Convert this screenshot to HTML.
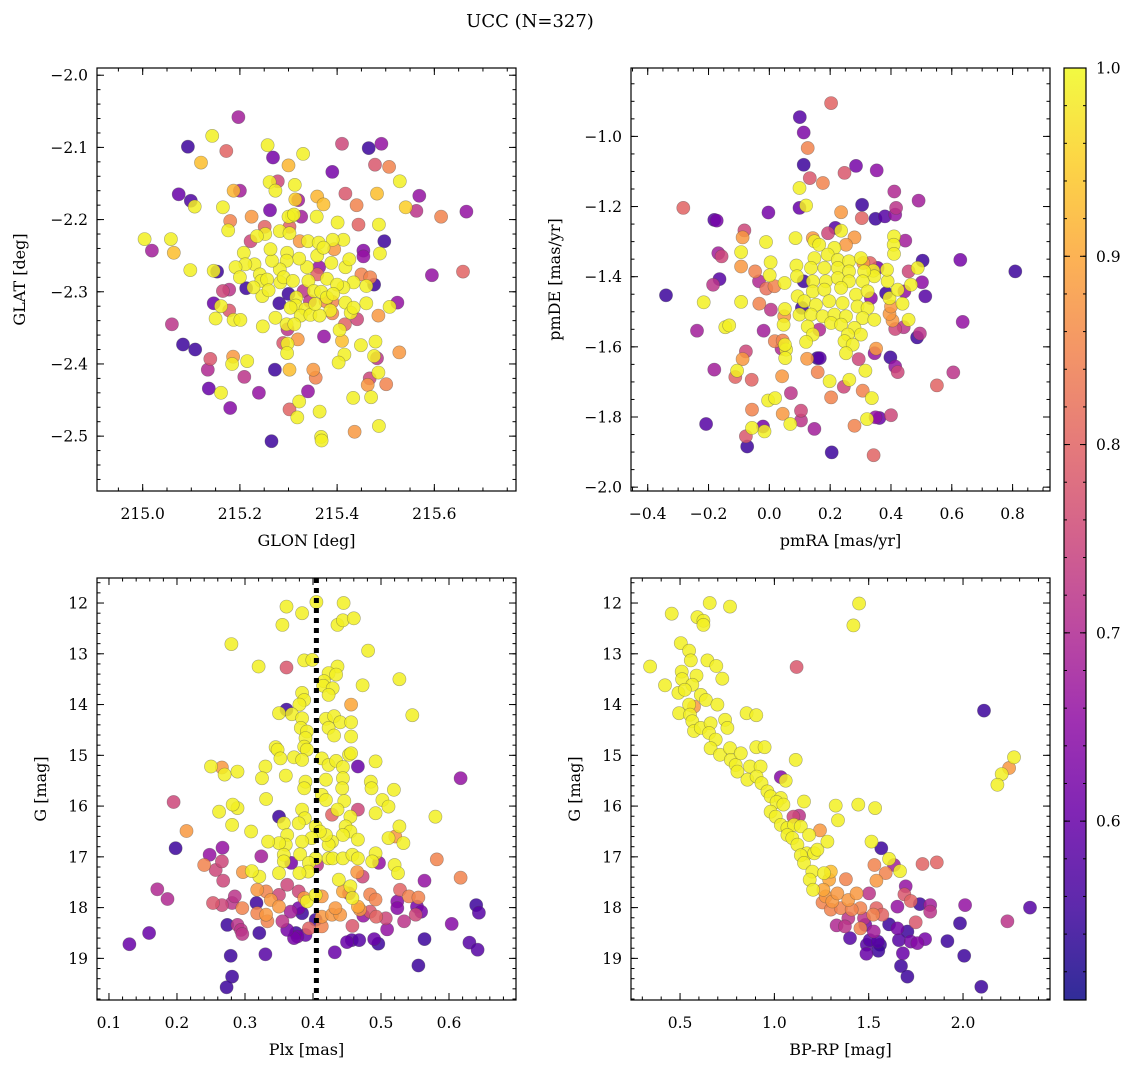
<!DOCTYPE html>
<html><head><meta charset="utf-8"><title>UCC (N=327)</title>
<style>
html,body{margin:0;padding:0;background:#fff;}
svg{display:block;font-family:"DejaVu Serif","Liberation Serif",serif;}
</style></head>
<body>
<svg id="fig" width="1136" height="1067" viewBox="0 0 1136 1067" xmlns="http://www.w3.org/2000/svg">
<rect width="1136" height="1067" fill="#fff"/>
<text x="530" y="27" text-anchor="middle" font-size="18" fill="#000">UCC (N=327)</text>
<defs>
<linearGradient id="plasma" x1="0" y1="1" x2="0" y2="0">
<stop offset="0" stop-color="#0d0887"/><stop offset="0.1" stop-color="#41049d"/><stop offset="0.2" stop-color="#6a00a8"/><stop offset="0.3" stop-color="#8f0da4"/><stop offset="0.4" stop-color="#b12a90"/><stop offset="0.5" stop-color="#cc4778"/><stop offset="0.6" stop-color="#e16462"/><stop offset="0.7" stop-color="#f2844b"/><stop offset="0.8" stop-color="#fca636"/><stop offset="0.9" stop-color="#fcce25"/><stop offset="1" stop-color="#f0f921"/>
</linearGradient>
</defs>
</svg>
<script>
// ---- Panel A: GLON / GLAT ----
const glon=[215.197,215.093,215.143,215.172,215.120,215.257,215.268,215.330,215.300,215.410,
215.465,215.491,215.478,215.507,215.390,215.529,215.074,215.099,215.107,215.200,
215.187,215.261,215.278,215.273,215.313,215.320,215.314,215.359,215.372,215.417,
215.440,215.482,215.569,215.541,215.563,215.614,215.666,215.165,215.262,215.224,
215.180,215.176,215.307,215.326,215.358,215.401,215.444,215.486,215.497,215.488,
215.004,215.058,215.019,215.064,215.098,215.146,215.153,215.454,215.454,215.595,
215.659,215.222,215.213,215.165,215.178,215.146,215.161,215.178,215.150,215.187,
215.201,215.281,215.273,215.247,215.060,215.083,215.108,215.139,215.134,215.186,
215.184,215.215,215.209,215.136,215.161,215.180,215.239,215.272,215.302,215.298,
215.296,215.289,215.298,215.297,215.319,215.340,215.322,215.302,215.318,215.364,
215.351,215.356,215.373,215.367,215.368,215.265,215.436,215.486,215.433,215.470,
215.463,215.467,215.501,215.485,215.528,215.479,215.482,215.476,215.449,215.415,
215.403,215.410,215.405,215.416,215.441,215.485,215.524,215.508,215.460,215.390,
215.417,215.428,215.386,215.460,215.476,215.450,215.468,215.434,215.417,215.425,
215.413,215.394,215.391,215.388,215.413,215.379,215.363,215.359,215.340,215.323,
215.362,215.372,215.338,215.322,215.297,215.296,215.282,215.266,215.263,215.252,
215.282,215.302,215.302,215.300,215.311,215.251,215.235,215.208,215.230,215.211,
215.191,215.200,215.241,215.244,215.256,215.283,215.290,215.309,215.341,215.359,
215.352,215.367,215.331,215.316,215.300,215.246,215.259,215.228,215.315,215.304,
215.335,215.325,215.345,215.364,215.344,215.355,215.379,215.400,215.390,215.392,
215.376,215.434,215.312];
const glat=[-2.058,-2.099,-2.084,-2.105,-2.121,-2.097,-2.114,-2.109,-2.125,-2.095,
-2.101,-2.095,-2.124,-2.127,-2.134,-2.147,-2.165,-2.174,-2.182,-2.160,
-2.160,-2.148,-2.147,-2.160,-2.152,-2.173,-2.172,-2.168,-2.179,-2.164,
-2.180,-2.164,-2.167,-2.183,-2.188,-2.196,-2.189,-2.183,-2.187,-2.196,
-2.202,-2.215,-2.195,-2.196,-2.196,-2.204,-2.207,-2.207,-2.230,-2.247,
-2.227,-2.227,-2.243,-2.246,-2.270,-2.271,-2.272,-2.243,-2.251,-2.277,
-2.272,-2.230,-2.295,-2.299,-2.297,-2.316,-2.320,-2.326,-2.337,-2.339,
-2.339,-2.316,-2.336,-2.348,-2.345,-2.373,-2.380,-2.393,-2.408,-2.390,
-2.400,-2.396,-2.418,-2.434,-2.440,-2.461,-2.440,-2.408,-2.408,-2.352,
-2.345,-2.371,-2.372,-2.385,-2.366,-2.438,-2.452,-2.463,-2.474,-2.466,
-2.408,-2.419,-2.362,-2.501,-2.506,-2.507,-2.494,-2.486,-2.447,-2.446,
-2.429,-2.420,-2.428,-2.412,-2.384,-2.369,-2.392,-2.389,-2.374,-2.387,
-2.398,-2.368,-2.353,-2.345,-2.338,-2.333,-2.315,-2.321,-2.316,-2.314,
-2.315,-2.329,-2.326,-2.292,-2.290,-2.276,-2.280,-2.287,-2.266,-2.255,
-2.228,-2.241,-2.228,-2.260,-2.294,-2.282,-2.266,-2.250,-2.230,-2.230,
-2.232,-2.239,-2.266,-2.254,-2.246,-2.257,-2.269,-2.257,-2.241,-2.220,
-2.216,-2.219,-2.210,-2.196,-2.193,-2.210,-2.223,-2.246,-2.262,-2.262,
-2.266,-2.280,-2.276,-2.285,-2.283,-2.287,-2.280,-2.285,-2.285,-2.276,
-2.299,-2.300,-2.299,-2.308,-2.303,-2.306,-2.298,-2.294,-2.319,-2.322,
-2.324,-2.333,-2.332,-2.333,-2.313,-2.317,-2.308,-2.290,-2.330,-2.303,
-2.313,-2.322,-2.345];
const probA=[0.68,0.55,0.99,0.80,0.93,0.99,0.62,0.99,0.92,0.75,
0.55,0.66,0.78,0.85,0.62,0.99,0.60,0.57,0.99,0.68,
0.92,0.99,0.75,0.99,0.99,0.68,0.95,0.92,0.93,0.78,
0.85,0.93,0.66,0.95,0.72,0.85,0.66,0.99,0.62,0.88,
0.85,0.99,0.99,0.68,0.99,0.99,0.80,0.99,0.55,0.99,
0.99,0.99,0.68,0.93,0.99,0.99,0.55,0.64,0.66,0.66,
0.80,0.75,0.55,0.75,0.72,0.60,0.99,0.78,0.99,0.99,
0.99,0.55,0.99,0.99,0.72,0.55,0.55,0.78,0.70,0.88,
0.99,0.99,0.72,0.60,0.99,0.64,0.66,0.55,0.93,0.72,
0.99,0.78,0.99,0.99,0.88,0.66,0.99,0.80,0.99,0.99,
0.88,0.85,0.66,0.99,0.99,0.55,0.88,0.99,0.99,0.99,
0.88,0.75,0.85,0.99,0.88,0.99,0.72,0.99,0.99,0.99,
0.99,0.93,0.99,0.80,0.75,0.88,0.66,0.99,0.99,0.85,
0.99,0.99,0.99,0.99,0.55,0.85,0.85,0.99,0.99,0.99,
0.99,0.88,0.99,0.99,0.99,0.99,0.66,0.99,0.99,0.88,
0.99,0.99,0.99,0.99,0.99,0.99,0.99,0.99,0.99,0.99,
0.99,0.99,0.80,0.99,0.99,0.80,0.99,0.99,0.99,0.99,
0.99,0.99,0.99,0.99,0.99,0.99,0.99,0.99,0.99,0.80,
0.99,0.99,0.72,0.99,0.55,0.99,0.99,0.99,0.99,0.99,
0.99,0.99,0.99,0.99,0.72,0.99,0.99,0.99,0.85,0.99,
0.85,0.99,0.99];

// ---- Panel B: pmRA / pmDE ----
const pmra=[0.203,0.100,0.113,0.126,0.113,0.133,0.176,0.099,0.247,0.285,
0.353,0.411,0.491,-0.283,-0.181,-0.173,-0.003,0.099,0.121,0.305,
0.236,0.304,0.349,0.380,0.417,0.414,-0.082,-0.088,-0.011,0.086,
0.143,0.193,0.217,0.236,0.280,0.410,0.409,0.410,0.447,-0.168,
-0.157,-0.093,0.004,-0.093,-0.047,-0.164,-0.185,-0.034,-0.010,0.017,
0.001,0.050,0.089,0.091,0.093,0.113,-0.340,-0.216,-0.093,-0.033,
0.005,0.051,0.049,0.047,0.099,-0.238,-0.145,-0.132,-0.019,0.018,
0.044,0.055,0.051,0.052,0.040,-0.077,-0.088,-0.181,-0.106,-0.112,
-0.058,0.042,0.124,0.158,0.166,0.159,0.198,0.245,0.263,0.294,
0.316,0.346,0.351,0.398,0.414,0.422,0.307,0.337,0.203,0.071,
-0.004,0.019,-0.057,0.044,0.104,0.104,0.069,0.148,-0.021,-0.016,
-0.057,-0.077,-0.073,-0.208,0.205,0.343,0.280,0.321,0.349,0.362,
0.400,0.551,0.605,0.636,0.486,0.495,0.442,0.414,0.458,0.405,
0.395,0.400,0.438,0.395,0.384,0.422,0.444,0.389,0.387,0.342,
0.345,0.309,0.331,0.356,0.466,0.502,0.488,0.504,0.458,0.513,
0.628,0.809,0.334,
0.148,0.164,0.214,0.252,0.192,0.148,0.225,0.262,0.301,0.137,
0.181,0.225,0.262,0.312,0.143,0.186,0.225,0.262,0.307,0.143,
0.181,0.236,0.285,0.323,0.115,0.153,0.197,0.241,0.290,0.323,
0.137,0.175,0.214,0.252,0.307,0.345,0.126,0.164,0.203,0.236,
0.280,0.143,0.258,0.301,0.121,0.247,0.274,0.252,0.107];
const pmde=[-0.905,-0.945,-0.989,-1.033,-1.081,-1.119,-1.133,-1.147,-1.104,-1.084,
-1.097,-1.157,-1.183,-1.204,-1.238,-1.240,-1.217,-1.204,-1.197,-1.195,
-1.216,-1.233,-1.235,-1.228,-1.204,-1.223,-1.268,-1.288,-1.301,-1.290,
-1.290,-1.276,-1.261,-1.269,-1.288,-1.285,-1.309,-1.335,-1.297,-1.333,
-1.342,-1.330,-1.359,-1.371,-1.385,-1.407,-1.423,-1.413,-1.434,-1.427,
-1.396,-1.418,-1.368,-1.399,-1.456,-1.413,-1.453,-1.473,-1.472,-1.477,
-1.494,-1.492,-1.513,-1.537,-1.508,-1.554,-1.544,-1.539,-1.554,-1.584,
-1.582,-1.608,-1.594,-1.632,-1.605,-1.613,-1.635,-1.665,-1.668,-1.686,
-1.694,-1.684,-1.634,-1.632,-1.632,-1.672,-1.698,-1.714,-1.694,-1.635,
-1.668,-1.618,-1.605,-1.630,-1.656,-1.672,-1.725,-1.746,-1.744,-1.732,
-1.753,-1.746,-1.779,-1.791,-1.782,-1.810,-1.820,-1.834,-1.827,-1.841,
-1.831,-1.855,-1.884,-1.820,-1.901,-1.909,-1.825,-1.806,-1.801,-1.803,
-1.795,-1.710,-1.673,-1.529,-1.573,-1.562,-1.544,-1.549,-1.523,-1.525,
-1.506,-1.485,-1.477,-1.461,-1.447,-1.437,-1.442,-1.413,-1.380,-1.383,
-1.399,-1.361,-1.361,-1.375,-1.423,-1.416,-1.375,-1.354,-1.385,-1.456,
-1.352,-1.385,-1.461,
-1.299,-1.309,-1.318,-1.309,-1.337,-1.347,-1.352,-1.356,-1.347,-1.375,
-1.375,-1.375,-1.385,-1.385,-1.413,-1.413,-1.404,-1.413,-1.413,-1.442,
-1.437,-1.432,-1.451,-1.442,-1.470,-1.480,-1.470,-1.475,-1.485,-1.489,
-1.508,-1.513,-1.508,-1.513,-1.518,-1.523,-1.542,-1.551,-1.532,-1.537,
-1.546,-1.565,-1.565,-1.565,-1.586,-1.584,-1.594,-1.618,-1.489];
const probB=[0.80,0.58,0.63,0.85,0.55,0.78,0.85,0.99,0.78,0.62,
0.65,0.70,0.68,0.80,0.58,0.62,0.62,0.60,0.99,0.55,
0.88,0.80,0.55,0.58,0.72,0.66,0.75,0.88,0.99,0.99,
0.88,0.75,0.58,0.99,0.88,0.99,0.99,0.99,0.68,0.68,
0.75,0.99,0.99,0.88,0.85,0.58,0.72,0.70,0.82,0.85,
0.99,0.99,0.99,0.99,0.99,0.55,0.55,0.99,0.99,0.85,
0.72,0.99,0.88,0.99,0.99,0.68,0.99,0.99,0.68,0.85,
0.85,0.99,0.99,0.99,0.70,0.75,0.88,0.68,0.99,0.80,
0.80,0.88,0.88,0.55,0.58,0.85,0.99,0.75,0.99,0.75,
0.99,0.66,0.88,0.55,0.66,0.75,0.85,0.99,0.85,0.72,
0.99,0.99,0.85,0.88,0.75,0.72,0.99,0.68,0.62,0.99,
0.99,0.78,0.55,0.58,0.55,0.80,0.85,0.99,0.66,0.60,
0.75,0.80,0.72,0.66,0.55,0.72,0.72,0.75,0.99,0.88,
0.88,0.88,0.99,0.99,0.55,0.99,0.66,0.99,0.99,0.99,
0.99,0.88,0.80,0.62,0.99,0.65,0.99,0.55,0.75,0.58,
0.62,0.55,0.65,
0.99,0.99,0.99,0.88,0.99,0.99,0.99,0.99,0.99,0.99,
0.99,0.99,0.99,0.99,0.99,0.99,0.99,0.99,0.99,0.99,
0.99,0.99,0.99,0.99,0.99,0.99,0.99,0.99,0.99,0.99,
0.99,0.99,0.99,0.99,0.99,0.99,0.99,0.70,0.99,0.99,
0.99,0.99,0.99,0.99,0.99,0.99,0.99,0.99,0.55];

// ---- Panel C: Plx / G ----
const plx=[0.361,0.384,0.405,0.445,0.355,0.436,0.444,0.460,0.280,0.320,
0.361,0.387,0.399,0.481,0.436,0.423,0.434,0.416,0.415,0.429,
0.473,0.527,0.423,0.384,0.387,0.380,0.361,0.350,0.369,0.456,
0.546,0.419,0.431,0.440,0.456,0.384,0.382,0.391,0.423,0.431,
0.456,0.389,0.387,0.391,0.345,0.348,0.352,0.372,0.384,0.413,
0.423,0.434,0.453,0.456,0.444,0.466,0.492,0.250,0.266,0.270,
0.289,0.330,0.325,0.360,0.389,0.387,0.419,0.444,0.413,0.419,
0.443,0.446,0.485,0.486,0.519,0.502,0.511,0.492,0.617,0.331,
0.289,0.282,0.262,0.195,0.281,0.309,0.214,0.384,0.388,0.357,
0.350,0.379,0.404,0.428,0.436,0.455,0.466,0.448,0.455,0.444,
0.466,0.428,0.423,0.419,0.410,0.398,0.384,0.362,0.360,0.350,
0.334,0.357,0.357,0.324,0.368,0.381,0.404,0.423,0.429,0.444,
0.458,0.466,0.492,0.497,0.487,0.520,0.525,0.511,0.521,0.533,
0.527,0.580,0.582,0.617,0.564,0.394,0.406,0.393,0.380,0.350,
0.321,0.310,0.297,0.465,0.473,0.438,0.455,0.444,0.458,0.466,
0.469,0.484,0.492,0.387,0.391,0.404,0.413,0.350,0.362,0.379,
0.318,0.331,0.338,0.350,0.317,0.318,0.331,0.333,0.355,0.367,
0.384,0.379,0.394,0.413,0.404,0.413,0.428,0.440,0.433,0.375,
0.377,0.389,0.372,0.362,0.321,0.330,0.279,0.281,0.273,0.274,
0.289,0.294,0.296,0.253,0.266,0.281,0.285,0.296,0.268,0.257,
0.266,0.240,0.248,0.267,0.198,0.171,0.186,0.159,0.130,0.432,
0.450,0.457,0.468,0.490,0.496,0.458,0.474,0.484,0.493,0.509,
0.507,0.524,0.524,0.534,0.528,0.541,0.555,0.551,0.553,0.559,
0.564,0.555,0.604,0.640,0.644,0.630,0.642,0.453];
const gmagC=[12.07,12.20,11.98,12.00,12.43,12.43,12.34,12.30,12.81,13.25,
13.27,13.13,13.12,12.94,13.25,13.38,13.41,13.54,13.63,13.68,
13.62,13.50,13.81,13.77,13.91,14.00,14.10,14.17,14.19,14.00,
14.21,14.28,14.23,14.35,14.35,14.27,14.46,14.53,14.46,14.61,
14.63,14.66,14.83,14.89,14.84,14.89,15.06,15.04,15.09,15.06,
15.19,15.11,14.99,14.96,15.23,15.22,15.12,15.22,15.24,15.38,
15.32,15.22,15.45,15.40,15.52,15.65,15.48,15.45,15.78,15.88,
15.65,15.90,15.52,15.65,15.68,15.88,16.01,16.14,15.45,15.86,
16.04,15.97,16.11,15.92,16.37,16.50,16.49,16.07,16.24,16.34,
16.21,16.34,16.40,16.17,16.07,16.21,16.07,16.40,16.50,16.57,
16.66,16.70,16.76,16.57,16.50,16.63,16.70,16.57,16.76,16.73,
16.70,16.96,17.09,16.99,17.12,16.95,17.03,17.03,17.03,17.03,
16.96,17.03,16.93,17.12,17.09,17.16,17.32,16.63,16.60,16.73,
16.40,16.21,17.05,17.41,17.47,17.12,17.16,17.29,17.32,17.32,
17.39,17.28,17.30,17.30,17.39,17.45,17.58,17.68,17.81,17.98,
18.04,17.74,17.84,17.81,17.88,17.75,17.78,17.75,17.55,17.68,
17.65,17.68,17.85,17.98,17.91,18.11,18.14,18.27,18.27,18.08,
18.11,18.01,18.41,18.37,18.24,18.18,18.14,18.14,18.01,18.50,
18.57,18.54,18.60,18.44,18.50,18.92,18.95,19.36,19.57,18.34,
18.34,18.44,18.52,17.91,17.95,17.91,17.78,18.01,17.47,17.26,
17.09,17.16,16.96,16.82,16.83,17.64,17.83,18.50,18.72,18.88,
18.68,18.64,18.64,18.62,18.71,18.36,18.16,18.08,18.18,18.43,
18.21,17.88,18.01,18.27,17.65,17.78,17.80,18.14,17.98,18.08,
18.62,19.14,18.32,17.95,18.10,18.69,18.83,17.72];
const probC=[0.99,0.99,0.99,0.99,0.99,0.99,0.99,0.99,0.99,0.99,
0.78,0.99,0.99,0.99,0.99,0.99,0.99,0.99,0.99,0.99,
0.99,0.99,0.99,0.99,0.99,0.99,0.55,0.99,0.99,0.90,
0.99,0.99,0.99,0.99,0.99,0.99,0.99,0.99,0.99,0.99,
0.99,0.99,0.99,0.99,0.99,0.99,0.99,0.99,0.99,0.99,
0.99,0.99,0.99,0.99,0.99,0.60,0.99,0.99,0.88,0.99,
0.99,0.99,0.99,0.99,0.99,0.99,0.99,0.99,0.99,0.99,
0.99,0.99,0.99,0.99,0.99,0.99,0.99,0.99,0.66,0.99,
0.99,0.99,0.99,0.75,0.99,0.99,0.88,0.99,0.99,0.99,
0.55,0.99,0.99,0.80,0.99,0.99,0.75,0.99,0.99,0.99,
0.99,0.99,0.99,0.99,0.99,0.99,0.99,0.99,0.99,0.99,
0.99,0.99,0.99,0.68,0.62,0.99,0.99,0.99,0.99,0.99,
0.99,0.99,0.99,0.66,0.99,0.99,0.99,0.99,0.88,0.99,
0.99,0.99,0.85,0.85,0.66,0.99,0.72,0.99,0.99,0.99,
0.99,0.99,0.88,0.88,0.75,0.99,0.99,0.90,0.99,0.90,
0.88,0.85,0.85,0.88,0.99,0.99,0.88,0.75,0.75,0.75,
0.88,0.85,0.88,0.88,0.55,0.85,0.88,0.85,0.72,0.68,
0.55,0.62,0.80,0.85,0.55,0.88,0.88,0.88,0.88,0.55,
0.62,0.60,0.62,0.62,0.55,0.58,0.55,0.55,0.55,0.55,
0.72,0.72,0.72,0.78,0.75,0.72,0.72,0.85,0.75,0.75,
0.75,0.85,0.66,0.66,0.55,0.70,0.70,0.60,0.60,0.60,
0.60,0.58,0.58,0.60,0.55,0.78,0.66,0.78,0.80,0.66,
0.75,0.64,0.64,0.72,0.80,0.85,0.85,0.75,0.62,0.62,
0.55,0.55,0.64,0.55,0.58,0.58,0.58,0.72];
const plxMedian=[0.405];

// ---- Panel D: BP-RP / G ----
const bprp=[0.456,0.592,0.624,0.624,0.657,0.765,1.449,1.419,0.504,0.548,
0.557,0.341,0.645,0.692,0.509,0.511,0.587,0.724,0.420,0.565,
0.491,0.525,0.610,0.637,0.574,0.548,0.698,0.495,0.553,0.565,
0.574,0.610,0.662,0.739,0.751,0.654,0.689,0.662,0.712,0.765,
0.853,0.904,0.904,0.948,1.113,0.769,0.795,0.822,0.871,0.927,
0.804,0.857,0.906,0.932,0.963,0.980,1.034,1.012,1.048,0.980,
1.007,1.034,1.069,1.104,1.069,1.095,1.140,1.184,1.122,1.172,
1.211,1.140,1.157,1.201,1.228,1.281,1.242,1.187,1.205,1.263,
1.299,1.290,1.260,1.272,1.307,1.334,1.379,1.255,1.299,1.352,
1.392,1.436,1.456,1.410,1.502,1.541,1.572,1.524,1.475,1.392,
1.330,1.374,1.456,1.482,1.527,1.401,1.490,1.506,1.488,1.548,
1.560,1.551,1.608,1.652,1.660,1.705,1.681,1.671,1.705,1.723,
1.758,1.799,1.749,1.652,1.696,1.689,1.723,1.771,1.826,1.826,
1.917,1.984,2.006,2.011,2.097,2.235,2.355,2.111,2.270,2.244,
2.205,2.182,1.118,1.034,1.060,1.157,1.325,1.337,1.445,1.534,
1.515,1.567,1.608,1.634,1.666,1.530,1.590,1.541,1.785,1.861,
1.101,1.131];
const gmagD=[12.21,12.28,12.35,12.43,12.00,12.07,12.01,12.44,12.79,12.94,
13.13,13.25,13.13,13.24,13.35,13.50,13.43,13.49,13.62,13.61,
13.77,13.71,13.81,13.91,14.04,14.00,14.00,14.17,14.20,14.33,
14.52,14.46,14.37,14.30,14.46,14.56,14.69,14.86,14.99,14.86,
14.17,14.21,14.84,14.84,15.09,15.09,15.19,14.96,15.22,15.22,
15.32,15.48,15.42,15.55,15.71,15.81,15.84,15.92,15.97,16.11,
16.21,16.37,16.43,16.37,16.57,16.63,16.40,16.57,16.76,16.93,
16.93,16.97,17.12,17.29,16.86,16.70,16.48,17.45,17.65,17.32,
17.29,17.45,17.65,17.78,17.88,17.72,17.44,17.90,18.04,18.01,
17.85,17.72,18.01,18.04,17.72,18.01,18.14,18.14,18.21,18.21,
18.35,18.37,18.41,18.34,18.47,18.60,18.73,18.64,18.91,18.67,
18.73,18.85,18.33,18.41,18.64,18.47,18.90,19.15,19.36,18.67,
18.70,18.62,18.29,17.98,17.58,17.74,17.87,17.93,17.95,18.08,
18.66,18.31,18.95,17.95,19.56,18.27,18.00,14.12,15.04,15.25,
15.37,15.58,13.26,15.43,15.50,15.91,15.99,16.28,15.97,16.04,
16.70,16.83,17.04,17.16,17.28,17.16,17.32,17.47,17.14,17.11,
16.21,16.19];
const probD=[0.99,0.99,0.99,0.99,0.99,0.99,0.99,0.99,0.99,0.99,
0.99,0.99,0.99,0.99,0.99,0.99,0.99,0.99,0.99,0.99,
0.99,0.99,0.99,0.99,0.88,0.99,0.99,0.99,0.99,0.99,
0.99,0.99,0.99,0.99,0.99,0.99,0.99,0.99,0.99,0.99,
0.99,0.99,0.99,0.99,0.99,0.99,0.99,0.99,0.99,0.99,
0.99,0.99,0.99,0.99,0.99,0.99,0.99,0.99,0.99,0.99,
0.99,0.99,0.99,0.99,0.99,0.99,0.99,0.99,0.99,0.99,
0.99,0.99,0.99,0.99,0.99,0.99,0.88,0.99,0.99,0.99,
0.93,0.90,0.90,0.88,0.88,0.88,0.85,0.85,0.85,0.85,
0.88,0.88,0.85,0.85,0.72,0.80,0.80,0.85,0.72,0.72,
0.70,0.72,0.85,0.62,0.68,0.58,0.58,0.58,0.60,0.58,
0.55,0.55,0.55,0.62,0.58,0.55,0.60,0.55,0.55,0.62,
0.64,0.62,0.78,0.66,0.66,0.78,0.80,0.55,0.68,0.72,
0.55,0.55,0.55,0.66,0.55,0.72,0.58,0.55,0.99,0.88,
0.99,0.99,0.78,0.64,0.99,0.99,0.99,0.99,0.99,0.99,
0.99,0.55,0.99,0.68,0.99,0.85,0.85,0.88,0.80,0.80,
0.75,0.72];

// ---- tick labels ----
const glonTicks=[215.0,215.2,215.4,215.6];
const glatTicks=[-2.0,-2.1,-2.2,-2.3,-2.4,-2.5];
const pmraTicks=[-0.4,-0.2,0.0,0.2,0.4,0.6,0.8];
const pmdeTicks=[-1.0,-1.2,-1.4,-1.6,-1.8,-2.0];
const plxTicks=[0.1,0.2,0.3,0.4,0.5,0.6];
const gTicks=[12,13,14,15,16,17,18,19];
const bprpTicks=[0.5,1.0,1.5,2.0];
const cbarTicks=[0.6,0.7,0.8,0.9,1.0];
const cbarRange=[0.505,1.0];

const NS="http://www.w3.org/2000/svg";
const svg=document.getElementById('fig');
function el(tag,attrs,parent){const e=document.createElementNS(NS,tag);for(const k in attrs)e.setAttribute(k,attrs[k]);(parent||svg).appendChild(e);return e;}
function lin(d0,d1,p0,p1){return v=>p0+(v-d0)/(d1-d0)*(p1-p0);}
const stops=[[0,13,8,135],[0.1,65,4,157],[0.2,106,0,168],[0.3,143,13,164],[0.4,177,42,144],[0.5,204,71,120],[0.6,225,100,98],[0.7,242,132,75],[0.8,252,166,54],[0.9,252,206,37],[1,240,249,33]];
function plasma(p){let t=(p-cbarRange[0])/(cbarRange[1]-cbarRange[0]);t=Math.max(0,Math.min(1,t));
 for(let i=1;i<stops.length;i++){if(t<=stops[i][0]){const a=stops[i-1],b=stops[i],f=(t-a[0])/(b[0]-a[0]);
 return 'rgb('+[1,2,3].map(j=>Math.round(a[j]+(b[j]-a[j])*f)).join(',')+')';}}return 'rgb(240,249,33)';}
function fmt(v,d){const s=Math.abs(v).toFixed(d);return (v<0?'\u2212':'')+s;}

function panel(cfg){
 const g=el('g',{});
 
 
 const L=cfg.box[0],T=cfg.box[1],R=cfg.box[2],B=cfg.box[3];
 const sx=lin(cfg.xd[0],cfg.xd[1],L,R), sy=lin(cfg.yd[0],cfg.yd[1],T,B);
 const n=Math.min(cfg.xs.length,cfg.ys.length,cfg.ps.length);
 const idx=[];for(let i=0;i<n;i++)idx.push(i);
 idx.sort((a,b)=>cfg.ps[a]-cfg.ps[b]);
 const cp=el('clipPath',{id:'clip-'+cfg.name},g);el('rect',{x:L,y:T,width:R-L,height:B-T},cp);
 const pg=el('g',{'clip-path':'url(#clip-'+cfg.name+')'},g);
 for(const i of idx){
  const c=el('circle',{cx:sx(cfg.xs[i]).toFixed(1),cy:sy(cfg.ys[i]).toFixed(1),r:6.6,fill:plasma(cfg.ps[i]),'fill-opacity':0.85,stroke:'rgba(70,70,70,0.45)','stroke-width':0.6},pg);
  
  
 }
 if(cfg.vline){const x=sx(cfg.vline[0]);const ln=el('line',{x1:x,y1:T,x2:x,y2:B,stroke:'#000','stroke-width':5,'stroke-dasharray':'5,5'},g);
  
  }
 const fr=el('rect',{x:L,y:T,width:R-L,height:B-T,fill:'none',stroke:'#000','stroke-width':1.2},g);
 
 
 const tk=el('g',{stroke:'#000','stroke-width':1},g);
 const xlo=Math.min(cfg.xd[0],cfg.xd[1]),xhi=Math.max(cfg.xd[0],cfg.xd[1]);
 const ylo=Math.min(cfg.yd[0],cfg.yd[1]),yhi=Math.max(cfg.yd[0],cfg.yd[1]);
 for(let v=Math.ceil(xlo/cfg.xm-1e-6)*cfg.xm;v<=xhi;v+=cfg.xm){const x=sx(v);el('line',{x1:x,y1:B,x2:x,y2:B-3.5},tk);el('line',{x1:x,y1:T,x2:x,y2:T+3.5},tk);}
 for(let v=Math.ceil(ylo/cfg.ym-1e-6)*cfg.ym;v<=yhi;v+=cfg.ym){const y=sy(v);el('line',{x1:L,y1:y,x2:L+3.5,y2:y},tk);el('line',{x1:R,y1:y,x2:R-3.5,y2:y},tk);}
 for(const v of cfg.xt){const x=sx(v);el('line',{x1:x,y1:B,x2:x,y2:B-7},tk);el('line',{x1:x,y1:T,x2:x,y2:T+7},tk);
  const t=el('text',{x:x,y:B+28,'text-anchor':'middle','font-size':15.5},g);t.textContent=fmt(v,cfg.xdec);
  
  }
 for(const v of cfg.yt){const y=sy(v);el('line',{x1:L,y1:y,x2:L+7,y2:y},tk);el('line',{x1:R,y1:y,x2:R-7,y2:y},tk);
  const t=el('text',{x:L-9,y:y+5.5,'text-anchor':'end','font-size':15.5},g);t.textContent=fmt(v,cfg.ydec);
  
  }
 const xl=el('text',{x:(L+R)/2,y:B+55,'text-anchor':'middle','font-size':16},g);xl.textContent=cfg.xlab;
 
 
 const yl=el('text',{x:0,y:0,'text-anchor':'middle','font-size':16,transform:'translate('+cfg.ylx+','+(T+B)/2+') rotate(-90)'},g);yl.textContent=cfg.ylab;
 
 
}

panel({name:'panel-glon-glat',box:[97,68,516,491],xd:[214.906,215.768],yd:[-1.990,-2.576],xs:glon,ys:glat,ps:probA,xt:glonTicks,yt:glatTicks,xm:0.05,ym:0.02,xdec:1,ydec:1,xlab:'GLON [deg]',ylab:'GLAT [deg]',ylx:25});
panel({name:'panel-pmra-pmde',box:[631,68,1050,491],xd:[-0.455,0.923],yd:[-0.805,-2.011],xs:pmra,ys:pmde,ps:probB,xt:pmraTicks,yt:pmdeTicks,xm:0.05,ym:0.05,xdec:1,ydec:1,xlab:'pmRA [mas/yr]',ylab:'pmDE [mas/yr]',ylx:560});
panel({name:'panel-plx-g',box:[97,578,516,1000],xd:[0.0824,0.6985],yd:[11.507,19.82],xs:plx,ys:gmagC,ps:probC,xt:plxTicks,yt:gTicks,xm:0.02,ym:0.2,xdec:1,ydec:0,xlab:'Plx [mas]',ylab:'G [mag]',ylx:46,vline:plxMedian});
panel({name:'panel-cmd',box:[631,578,1050,1000],xd:[0.24,2.461],yd:[11.507,19.82],xs:bprp,ys:gmagD,ps:probD,xt:bprpTicks,yt:gTicks,xm:0.1,ym:0.2,xdec:1,ydec:0,xlab:'BP-RP [mag]',ylab:'G [mag]',ylx:580});

(function(){
 const g=el('g',{});
 
 
 const L=1064,R=1086,T=68,B=1000;
 const sy=lin(cbarRange[0],cbarRange[1],B,T);
 el('rect',{x:L,y:T,width:R-L,height:B-T,fill:'url(#plasma)','fill-opacity':0.85},g);
 el('rect',{x:L,y:T,width:R-L,height:B-T,fill:'none',stroke:'#000','stroke-width':1.2},g);
 for(let v=0.52;v<=1.0001;v+=0.02){const y=sy(v);el('line',{x1:R,y1:y,x2:R-3,y2:y,stroke:'#000','stroke-width':1},g);el('line',{x1:L,y1:y,x2:L+3,y2:y,stroke:'#000','stroke-width':1},g);}
 for(const v of cbarTicks){const y=sy(v);el('line',{x1:R,y1:y,x2:R-6,y2:y,stroke:'#000','stroke-width':1},g);el('line',{x1:L,y1:y,x2:L+6,y2:y,stroke:'#000','stroke-width':1},g);
  const t=el('text',{x:R+10,y:y+5.5,'font-size':15.5},g);t.textContent=v.toFixed(1);
  
  }
})();
</script>
</body></html>
